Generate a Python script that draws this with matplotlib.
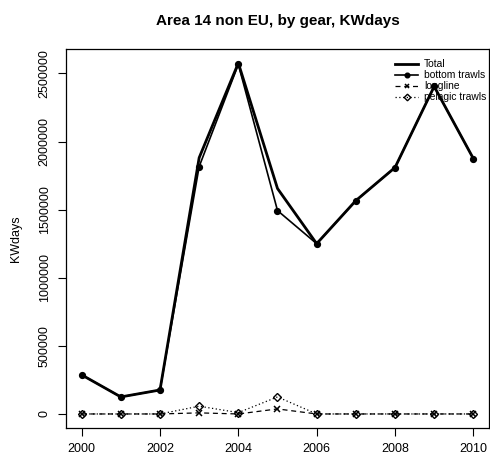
import matplotlib.pyplot as plt
import numpy as np

plt.rcParams['font.family'] = ['Liberation Sans', 'DejaVu Sans']

years = [2000, 2001, 2002, 2003, 2004, 2005, 2006, 2007, 2008, 2009, 2010]

bottom_trawls = [287000, 125000, 176000, 1816000, 2566000, 1493000, 1250000, 1566000, 1809000, 2404000, 1875000]
longline = [0, 0, 0, 8000, 0, 37000, 0, 0, 0, 0, 0]
pelagic_trawls = [0, 0, 0, 57000, 10000, 125000, 0, 0, 0, 0, 0]

total = list(np.array(bottom_trawls) + np.array(longline) + np.array(pelagic_trawls))

fig = plt.figure(figsize=(4.9, 4.59), dpi=100)
ax = fig.add_axes([66 / 490, 31 / 459, 423 / 490, 379 / 459])

ax.plot(years, total, color='black', lw=2.0, label='Total')
ax.plot(years, bottom_trawls, color='black', lw=1.2, marker='o', ms=4.2,
        label='bottom trawls')
ax.plot(years, longline, color='black', lw=0.9, ls=(0, (4, 3)), marker='x',
        ms=4.2, mew=1.1, label='longline')
ax.plot(years, pelagic_trawls, color='black', lw=0.9, ls=(0, (1, 2)),
        marker='D', ms=4.2, mfc='none', mew=1.0, label='pelagic trawls')

ax.set_xlim(1999.6, 2010.4)
ymax = max(total)
ax.set_ylim(-0.04 * ymax, 1.04 * ymax)

ax.set_xticks([2000, 2002, 2004, 2006, 2008, 2010])
ax.set_yticks([0, 500000, 1000000, 1500000, 2000000, 2500000])
ax.set_yticklabels(['0', '500000', '1000000', '1500000', '2000000', '2500000'],
                   rotation=90, va='center')
ax.tick_params(direction='out', length=6, width=0.8, labelsize=9, pad=5)
for s in ax.spines.values():
    s.set_linewidth(0.9)

ax.set_ylabel('KWdays', fontsize=9, labelpad=12)
ax.set_title('Area 14 non EU, by gear, KWdays', fontsize=11,
             fontweight='bold', pad=17)

ax.legend(loc='upper left', bbox_to_anchor=(388 / 490, 1 - 52 / 459),
          bbox_transform=fig.transFigure, frameon=False, fontsize=7.4,
          handlelength=2.2, handletextpad=0.6, labelspacing=0.1,
          borderpad=0.2, markerscale=0.8)

fig.savefig('out.png', dpi=100)
